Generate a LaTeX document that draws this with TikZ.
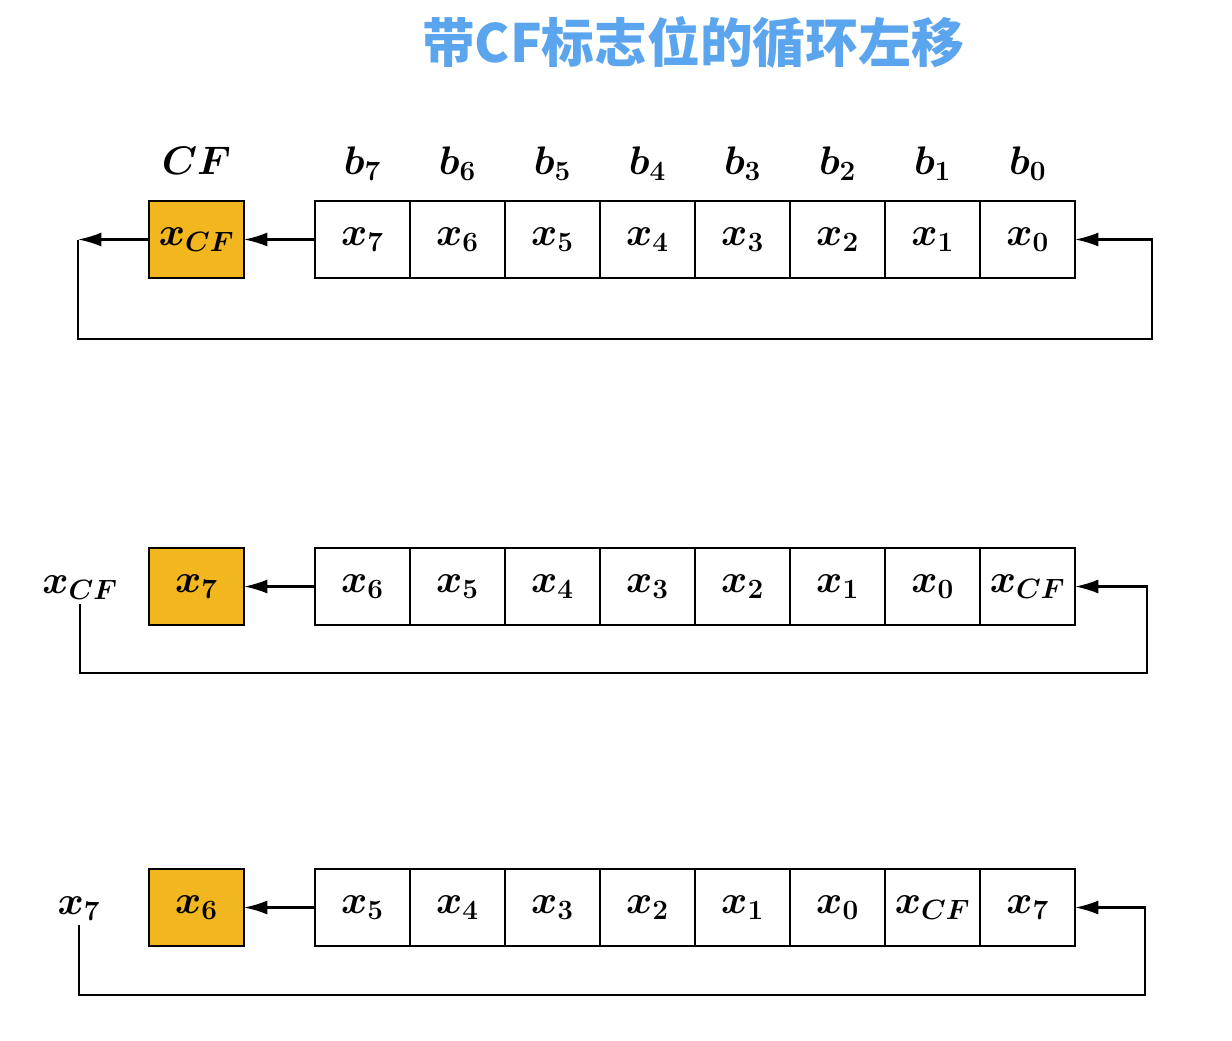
\RequirePackage{fix-cm}
\documentclass[tikz,border=0pt]{standalone}
\usepackage{amsmath}
\usepackage{fontspec}
\newfontfamily\cjk{Noto Sans CJK SC}
\usetikzlibrary{arrows.meta,positioning}
\definecolor{titleblue}{HTML}{5AA5EE}
\definecolor{cfyellow}{HTML}{F2B61E}
\tikzstyle{mathtext} = [font=\fontsize{34}{40}\selectfont\boldmath]
\tikzstyle{cell} = [mathtext, shape = rectangle, draw, line width=1.5pt, minimum width=2.85cm, minimum height=2.31cm, inner sep=0pt, outer sep=0pt]
\tikzstyle{cfbox} = [cell, fill = cfyellow]
\tikzstyle{arrow} = [-{Latex[length=0.7cm,width=0.42cm]}, line width=1.8pt]
\tikzstyle{loopline} = [arrow, rounded corners=0pt]

\begin{document}
\begin{tikzpicture}[x=0.03cm, y=-0.03cm]
			\useasboundingbox (0,0) rectangle (1232,1041);
			\node (title) at (693,42) [font=\cjk\bfseries\fontsize{45}{52}\selectfont, text=titleblue] {带CF标志位的循环左移};
			% first row: the register before the shift
			\node (cfA) at (196.5,239.5) [cfbox] {$x_{CF}$};
			\node (cfnameA) at (196.5,161) [mathtext] {$CF$};
			\foreach \i/\t in {0/7,1/6,2/5,3/4,4/3,5/2,6/1,7/0} {
				\node (A\i) at ({362.5+95*\i},239.5) [cell] {$x_{\t}$};
				\node (bit\i) at ({362.5+95*\i},164) [mathtext] {$b_{\t}$};
			}
			\coordinate (outA) at (78,239.5);
			\coordinate (cornerA) at (1152,339);
			\draw[arrow] (A0.west) -- (cfA.east);
			\draw[arrow] (cfA.west) -- (outA);
			\draw[loopline] (outA) |- (cornerA) |- (A7.east);
			% second row: after one shift
			\node (cfB) at (196.5,586.5) [cfbox] {$x_7$};
			\node (outB) at (80,588) [mathtext] {$x_{CF}$};
			\foreach \i/\t in {0/x_6,1/x_5,2/x_4,3/x_3,4/x_2,5/x_1,6/x_0,7/x_{CF}} {
				\node (B\i) at ({362.5+95*\i},586.5) [cell] {$\t$};
			}
			\coordinate (cornerB) at (1147,673);
			\draw[arrow] (B0.west) -- (cfB.east);
			\draw[loopline] (outB.south) |- (cornerB) |- (B7.east);
			% third row: after two shifts
			\node (cfC) at (196.5,907.5) [cfbox] {$x_6$};
			\node (outC) at (79,909) [mathtext] {$x_7$};
			\foreach \i/\t in {0/x_5,1/x_4,2/x_3,3/x_2,4/x_1,5/x_0,6/x_{CF},7/x_7} {
				\node (C\i) at ({362.5+95*\i},907.5) [cell] {$\t$};
			}
			\coordinate (cornerC) at (1145,995);
			\draw[arrow] (C0.west) -- (cfC.east);
			\draw[loopline] (outC.south) |- (cornerC) |- (C7.east);
			\end{tikzpicture}
\end{document}
